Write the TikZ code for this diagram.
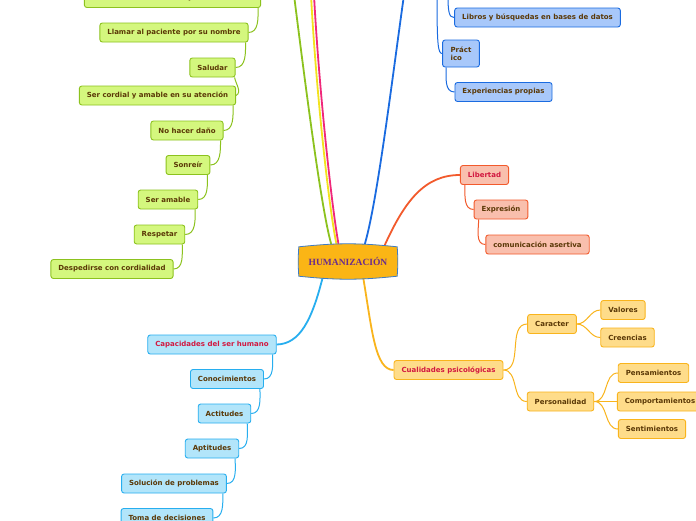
\documentclass[tikz,border=0pt]{standalone}
\usepackage{fontspec}
\newfontfamily\mapfont{DejaVu Sans}
\newfontfamily\hubfont{Liberation Serif}
\usetikzlibrary{positioning,backgrounds}

\definecolor{grfill}{HTML}{D4F77E}
\definecolor{grline}{HTML}{8CC21E}
\definecolor{bufill}{HTML}{A8C8FA}
\definecolor{buline}{HTML}{1A6BE0}
\definecolor{rdfill}{HTML}{F9BFAD}
\definecolor{rdline}{HTML}{F25A2C}
\definecolor{cyfill}{HTML}{B2E5FA}
\definecolor{cyline}{HTML}{27AEEF}
\definecolor{yefill}{HTML}{FEDC8A}
\definecolor{yeline}{HTML}{F9B41C}
\definecolor{pkline}{HTML}{F0287A}
\definecolor{ylline}{HTML}{F2E21E}
\definecolor{hubfill}{HTML}{FBB515}
\definecolor{hubline}{HTML}{3F7CC4}
\definecolor{hubtext}{HTML}{6A2C8C}
\definecolor{txtbrown}{HTML}{5A3806}
\definecolor{txtred}{HTML}{D21840}

\tikzset{
  topic/.style={draw, rounded corners=2.5pt, line width=0.9pt, inner xsep=7.5pt,
    inner ysep=0pt, minimum height=19pt, text=txtbrown,
    font=\mapfont\bfseries\fontsize{7}{8.5}\selectfont},
  grbox/.style={topic, fill=grfill, draw=grline},
  bubox/.style={topic, fill=bufill, draw=buline},
  rdbox/.style={topic, fill=rdfill, draw=rdline},
  cybox/.style={topic, fill=cyfill, draw=cyline},
  yebox/.style={topic, fill=yefill, draw=yeline},
  trunk/.style={line width=1.8pt},
  twig/.style={line width=1pt},
}

\begin{document}
\begin{tikzpicture}[x=1pt,y=-1pt]
\useasboundingbox (0,0) rectangle (696,520);
\clip (0,0) rectangle (696,520);

% central topic
\node[font=\hubfont\bfseries\fontsize{9.5}{11}\selectfont, text=hubtext,
  minimum width=98pt, minimum height=29pt, inner sep=0pt] (hub) at (348,261.5) {HUMANIZACIÓN};

% green branch
\node[grbox] (asertivo) at (172.5,-2) {Ser asertivo en el habla y en la conducta};
\node[grbox] (llamar) at (174,32.5) {Llamar al paciente por su nombre};
\node[grbox] (saludar) at (212.5,67.5) {Saludar};
\node[grbox] (cordial) at (157.5,95.5) {Ser cordial y amable en su atención};
\node[grbox] (dano) at (187,130.5) {No hacer daño};
\node[grbox] (sonreir) at (188,165) {Sonreír};
\node[grbox] (amable) at (168,199.5) {Ser amable};
\node[grbox] (respetar) at (159.5,234.5) {Respetar};
\node[grbox] (despedir) at (112,269) {Despedirse con cordialidad};

% blue branch
\node[bubox] (libros) at (537.5,17.5) {Libros y búsquedas en bases de datos};
\node[bubox, align=left, minimum height=27pt, inner xsep=8pt] (practico) at (461,53.5) {Práct\\ico};
\node[bubox] (propias) at (503.5,92) {Experiencias propias};

% red branch
\node[rdbox] (libertad) at (484.5,175) {\textcolor{txtred}{Libertad}};
\node[rdbox] (expresion) at (501,209.5) {Expresión};
\node[rdbox] (asertiva) at (537.5,244.5) {comunicación asertiva};

% cyan branch
\node[cybox] (capac) at (212,344.5) {\textcolor{txtred}{Capacidades del ser humano}};
\node[cybox] (conoc) at (227,379) {Conocimientos};
\node[cybox] (actit) at (224.5,413.5) {Actitudes};
\node[cybox] (aptit) at (212,448.5) {Aptitudes};
\node[cybox] (solucion) at (174,483.5) {Solución de problemas};
\node[cybox] (toma) at (167,518) {Toma de decisiones};

% yellow branch
\node[yebox] (cualid) at (448.5,370) {\textcolor{txtred}{Cualidades psicológicas}};
\node[yebox] (caracter) at (552,324) {Caracter};
\node[yebox] (valores) at (623,310) {Valores};
\node[yebox] (creencias) at (627.5,337.5) {Creencias};
\node[yebox] (personal) at (560.5,401.5) {Personalidad};
\node[yebox] (pensam) at (653.5,373) {Pensamientos};
\node[yebox] (comport) at (660,401.5) {Comportamientos};
\node[yebox] (sentim) at (652,429) {Sentimientos};

% loose ends above the page
\coordinate (gtop) at (294,-5);
\coordinate (ytop) at (311,-5);
\coordinate (ptop) at (314,-5);
\coordinate (btop) at (404,-5);
\coordinate (bu1) at (448,-5);
\coordinate (bu2) at (437,-5);

\begin{pgfonlayer}{background}
  \fill[white] (0,0) rectangle (696,520);
  % trunks
  \draw[trunk,grline] ([xshift=-16pt]hub.north) .. controls (322,215) and (306,90) .. (gtop);
  \draw[trunk,ylline] ([xshift=-11pt]hub.north) .. controls (329,210) and (316,90) .. (ytop);
  \draw[trunk,pkline] ([xshift=-9pt]hub.north) .. controls (332,210) and (319,90) .. (ptop);
  \draw[trunk,buline] ([xshift=16pt]hub.north) .. controls (377,205) and (392,80) .. (btop);
  \draw[trunk,rdline] ([xshift=36pt]hub.north) .. controls (405,200) and (425,175) .. (libertad.west);
  \draw[trunk,cyline] ([xshift=-25pt]hub.south) .. controls (312,320) and (300,344) .. (capac.east);
  \draw[trunk,yeline] ([xshift=15pt]hub.south) .. controls (372,330) and (375,370) .. (cualid.west);

  % green chain
  \draw[twig,grline] ([xshift=-3pt]asertivo.south east) to[out=-90,in=0] (llamar.east);
  \draw[twig,grline] ([xshift=-3pt]llamar.south east) to[out=-90,in=0] (saludar.east);
  \draw[twig,grline] ([xshift=-1pt]saludar.south east) to[out=-80,in=30] (cordial.east);
  \draw[twig,grline] ([xshift=-3pt]cordial.south east) to[out=-90,in=0] (dano.east);
  \draw[twig,grline] ([xshift=-3pt]dano.south east) to[out=-90,in=0] (sonreir.east);
  \draw[twig,grline] ([xshift=-3pt]sonreir.south east) to[out=-90,in=0] (amable.east);
  \draw[twig,grline] ([xshift=-3pt]amable.south east) to[out=-90,in=0] (respetar.east);
  \draw[twig,grline] ([xshift=-3pt]respetar.south east) to[out=-90,in=0] (despedir.east);

  % blue chain
  \draw[twig,buline] (bu1) .. controls (448,12) and (449,17.5) .. (libros.west);
  \draw[twig,buline] (bu2) .. controls (437,45) and (438,53.5) .. (practico.west);
  \draw[twig,buline] ([xshift=4pt]practico.south west) to[out=-90,in=180] (propias.west);

  % red chain
  \draw[twig,rdline] ([xshift=5pt]libertad.south west) to[out=-90,in=180] (expresion.west);
  \draw[twig,rdline] ([xshift=5pt]expresion.south west) to[out=-90,in=180] (asertiva.west);

  % cyan chain
  \draw[twig,cyline] ([xshift=-4pt]capac.south east) to[out=-90,in=0] (conoc.east);
  \draw[twig,cyline] ([xshift=-4pt]conoc.south east) to[out=-90,in=0] (actit.east);
  \draw[twig,cyline] ([xshift=-4pt]actit.south east) to[out=-90,in=0] (aptit.east);
  \draw[twig,cyline] ([xshift=-4pt]aptit.south east) to[out=-90,in=0] (solucion.east);
  \draw[twig,cyline] ([xshift=-4pt]solucion.south east) to[out=-90,in=0] (toma.east);

  % yellow tree
  \draw[twig,yeline] (cualid.east) to[out=0,in=180] (caracter.west);
  \draw[twig,yeline] (cualid.east) to[out=0,in=180] (personal.west);
  \draw[twig,yeline] (caracter.east) to[out=0,in=180] (valores.west);
  \draw[twig,yeline] (caracter.east) to[out=0,in=180] (creencias.west);
  \draw[twig,yeline] (personal.east) to[out=0,in=180] (pensam.west);
  \draw[twig,yeline] (personal.east) to[out=0,in=180] (comport.west);
  \draw[twig,yeline] (personal.east) to[out=0,in=180] (sentim.west);

  % central shape
  \draw[fill=hubfill,draw=hubline,line width=0.8pt]
    (hub.north west) to[bend left=6] (hub.north east) to[bend left=4] (hub.south east)
    to[bend left=6] (hub.south west) to[bend left=4] cycle;
\end{pgfonlayer}
\end{tikzpicture}
\end{document}
